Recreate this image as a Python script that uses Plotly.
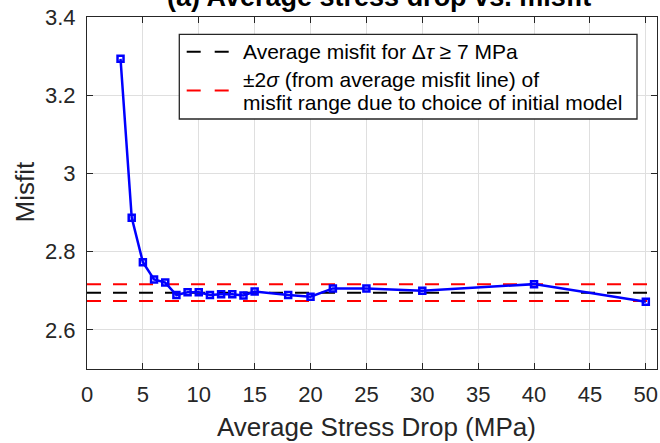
import plotly.graph_objects as go

# ---------------- data ----------------
stress_drop = [3, 4, 5, 6, 7, 8, 9, 10, 11, 12, 13, 14, 15, 18, 20, 22, 25, 30, 40, 50]
misfit = [3.293, 2.887, 2.773, 2.729, 2.721, 2.689, 2.696, 2.696, 2.689, 2.691,
          2.691, 2.688, 2.698, 2.689, 2.685, 2.706, 2.706, 2.700, 2.717, 2.672]
avg_misfit = 2.695
upper_2sigma = 2.717
lower_2sigma = 2.674
x_limits = [0, 51]
y_limits = [2.5, 3.4]
x_ticks = [0, 5, 10, 15, 20, 25, 30, 35, 40, 45, 50]
x_tick_labels = ["0", "5", "10", "15", "20", "25", "30", "35", "40", "45", "50"]
y_ticks = [2.6, 2.8, 3.0, 3.2, 3.4]
y_tick_labels = ["2.6", "2.8", "3", "3.2", "3.4"]
title_text = "(a) Average stress drop vs. misfit"
x_label = "Average Stress Drop (MPa)"
y_label = "Misfit"
legend_line1 = "Average misfit for Δ<i>τ</i> ≥ 7 MPa"
legend_line2 = "±2<i>σ</i> (from average misfit line) of"
legend_line3 = "misfit range due to choice of initial model"

# ---------------- layout geometry ----------------
W, H = 660, 443
ML, MR, MT, MB = 87, 3, 17, 74
PW, PH = W - ML - MR, H - MT - MB
FONT = "Liberation Sans, Arial, Helvetica, sans-serif"
AX = "#262626"
GRID = "#dfdfdf"
DASH = "14px,12px"


def px(xp):
    return (xp - ML) / PW


def py(yp):
    return (H - MB - yp) / PH


fig = go.Figure()

fig.add_trace(go.Scatter(
    x=x_limits, y=[avg_misfit, avg_misfit], mode="lines",
    line=dict(color="#000000", width=2, dash=DASH),
    name="Average misfit", showlegend=False, hoverinfo="skip"))
fig.add_trace(go.Scatter(
    x=[x_limits[0], x_limits[1], None, x_limits[0], x_limits[1]],
    y=[upper_2sigma, upper_2sigma, None, lower_2sigma, lower_2sigma],
    mode="lines", line=dict(color="#ff0000", width=2, dash=DASH),
    name="±2σ", showlegend=False, hoverinfo="skip"))
fig.add_trace(go.Scatter(
    x=stress_drop, y=misfit, mode="lines+markers",
    line=dict(color="#0000ff", width=2.5),
    marker=dict(symbol="square-open", size=6, color="#0000ff",
                line=dict(color="#0000ff", width=2.5)),
    name="Misfit", showlegend=False))

axis_common = dict(
    showline=True, linecolor=AX, linewidth=1, mirror="ticks",
    ticks="inside", ticklen=6, tickcolor=AX, tickwidth=1,
    showgrid=True, gridcolor=GRID, gridwidth=1, zeroline=False,
    tickfont=dict(family=FONT, size=22, color=AX),
)

fig.update_xaxes(range=x_limits, tickmode="array", tickvals=x_ticks,
                 ticktext=x_tick_labels, ticklabelstandoff=6, **axis_common)
fig.update_yaxes(range=y_limits, tickmode="array", tickvals=y_ticks,
                 ticktext=y_tick_labels, ticklabelstandoff=6, **axis_common)

annotations = [
    dict(text="<b>" + title_text + "</b>", xref="paper", yref="paper",
         x=px(379), y=py(-2.9), xanchor="center", yanchor="middle",
         showarrow=False, font=dict(family=FONT, size=27, color="#000000")),
    dict(text=x_label, xref="paper", yref="paper", x=px(376), y=py(426.5),
         xanchor="center", yanchor="middle", showarrow=False,
         font=dict(family=FONT, size=26, color=AX)),
    dict(text=y_label, xref="paper", yref="paper", x=px(24), y=py(192.5),
         xanchor="center", yanchor="middle", textangle=-90, showarrow=False,
         font=dict(family=FONT, size=26, color=AX)),
]
for txt, yc in [(legend_line1, 51.7), (legend_line2, 79.3), (legend_line3, 102.7)]:
    annotations.append(dict(text=txt, xref="paper", yref="paper",
                            x=px(240.7), y=py(yc), xanchor="left", yanchor="middle",
                            showarrow=False,
                            font=dict(family=FONT, size=21, color="#000000")))

shapes = [
    dict(type="rect", xref="paper", yref="paper", x0=px(179.3), x1=px(637),
         y0=py(119), y1=py(34.3), line=dict(color=AX, width=1.3),
         fillcolor="#ffffff", layer="above"),
    dict(type="line", xref="paper", yref="paper", x0=px(186.7), x1=px(229),
         y0=py(51.7), y1=py(51.7), line=dict(color="#000000", width=2, dash="14px,14px"),
         layer="above"),
    dict(type="line", xref="paper", yref="paper", x0=px(186.7), x1=px(229),
         y0=py(90.5), y1=py(90.5), line=dict(color="#ff0000", width=2, dash="14px,14px"),
         layer="above"),
]

fig.update_layout(
    width=W, height=H, margin=dict(l=ML, r=MR, t=MT, b=MB, pad=0),
    paper_bgcolor="#ffffff", plot_bgcolor="#ffffff",
    showlegend=False, annotations=annotations, shapes=shapes,
    font=dict(family=FONT, color=AX),
)

fig.write_html("out.html")
